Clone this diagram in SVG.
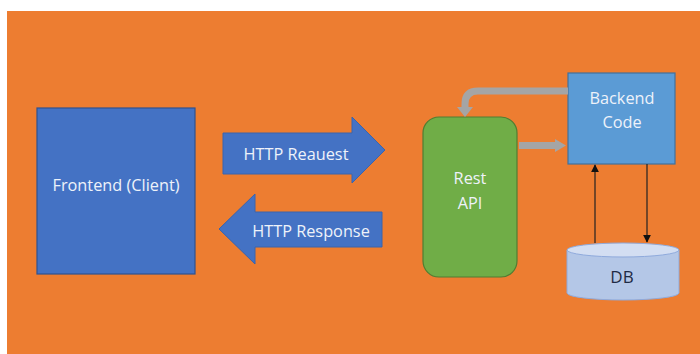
<svg xmlns="http://www.w3.org/2000/svg" width="700" height="354" viewBox="0 0 700 354">
  <style>
    .lbl { font-family: "Open Sans", "Liberation Sans", sans-serif; font-size: 16.3px; font-weight: 500; fill: #eef2fa; text-anchor: middle; }
    .dark { fill: #1f2a44; font-size: 17px; }
    .blue { fill: #4472c4; stroke: #3a64ad; stroke-width: 1; }
    .grey { fill: none; stroke: #a5a5a5; stroke-width: 7; }
    .greyhead { fill: #a5a5a5; }
    .thin { stroke: #222; stroke-width: 1.2; fill: none; }
  </style>
  <defs>
    <marker id="tri" viewBox="0 0 10 10" refX="9" refY="5" markerWidth="8" markerHeight="8" markerUnits="userSpaceOnUse" orient="auto">
      <path d="M0,0 L10,5 L0,10 z" fill="#111"/>
    </marker>
  </defs>

  <!-- page background -->
  <rect x="0" y="0" width="700" height="354" fill="#ffffff"/>
  <rect x="7" y="11" width="693" height="343" fill="#ed7d31"/>

  <g id="frontend">
    <rect x="37" y="108" width="158" height="166" fill="#4472c4" stroke="#2f528f" stroke-width="1.2"/>
    <text class="lbl" x="116" y="191">Frontend (Client)</text>
  </g>

  <g id="http-request">
    <path class="blue" d="M223,133 H352 V117 L385,150 L352,183 V174 H223 Z"/>
    <text class="lbl" x="296" y="160">HTTP Reauest</text>
  </g>

  <g id="http-response">
    <path class="blue" d="M382,212 H255 V194 L219,229 L255,264 V247 H382 Z"/>
    <text class="lbl" x="311" y="237">HTTP Response</text>
  </g>

  <g id="rest-api">
    <rect x="423" y="117" width="94" height="160" rx="16" ry="16" fill="#70ad47" stroke="#507e32" stroke-width="1.2"/>
    <text class="lbl" x="470" y="184">Rest</text>
    <text class="lbl" x="470" y="209">API</text>
  </g>

  <g id="backend-code">
    <rect x="568" y="73" width="107" height="91" fill="#5b9bd5" stroke="#41719c" stroke-width="1.2"/>
    <text class="lbl" x="622" y="104">Backend</text>
    <text class="lbl" x="622" y="128">Code</text>
  </g>

  <g id="db">
    <path d="M567,250 V293 A56,7 0 0 0 679,293 V250 Z" fill="#b4c7e7" stroke="#8faadc" stroke-width="1"/>
    <ellipse cx="623" cy="250" rx="56" ry="7" fill="#d3def2" stroke="#8faadc" stroke-width="1"/>
    <text class="lbl dark" x="622" y="283">DB</text>
  </g>

  <g id="connectors">
    <!-- backend to rest api, bent grey arrow -->
    <path class="grey" d="M568,91 H478 Q465,91 465,104 V108"/>
    <path class="greyhead" d="M457,107 H473 L465,117 Z"/>
    <!-- rest api to backend, straight grey arrow -->
    <path class="grey" d="M519,145.5 H556"/>
    <path class="greyhead" d="M555,139 L566,145.5 L555,152 Z"/>
    <!-- db to backend -->
    <line class="thin" x1="595" y1="243" x2="595" y2="165" marker-end="url(#tri)"/>
    <!-- backend to db -->
    <line class="thin" x1="647" y1="164" x2="647" y2="242" marker-end="url(#tri)"/>
  </g>
</svg>
